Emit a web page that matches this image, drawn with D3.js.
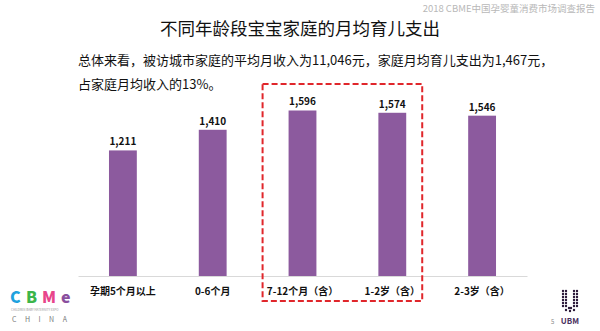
<!DOCTYPE html>
<html>
<head>
<meta charset="utf-8">
<script src="https://cdn.jsdelivr.net/npm/d3@7"></script>
<style>
  html, body { margin: 0; padding: 0; background: #fff; }
  svg { display: block; }
  text { font-family: "Noto Sans CJK SC", "Noto Sans", sans-serif; }
</style>
</head>
<body>
<svg id="chart" width="600" height="331"></svg>
<script>
// Monthly childcare spending by baby age group (元)
const categories = ["孕期5个月以上", "0-6个月", "7-12个月（含）", "1-2岁（含）", "2-3岁（含）"];
const spending = [1211, 1410, 1596, 1574, 1546];
const highlighted = ["7-12个月（含）", "1-2岁（含）"];

const headerText = "2018 CBME中国孕婴童消费市场调查报告";
const titleText = "不同年龄段宝宝家庭的月均育儿支出";
const noteLines = [
  "总体来看，被访城市家庭的平均月收入为11,046元，家庭月均育儿支出为1,467元，",
  "占家庭月均收入的13%。"
];

const svg = d3.select("#chart");
const barColor = "#8c5a9e";

// Header, title and note
svg.append("text").attr("x", 595).attr("y", 12).attr("text-anchor", "end")
  .attr("font-size", 9.5).attr("fill", "#b8b8b8").text(headerText);

svg.append("text").attr("x", 300).attr("y", 35).attr("text-anchor", "middle")
  .attr("font-size", 17.5).attr("fill", "#111").text(titleText);

svg.selectAll("text.note").data(noteLines).join("text")
  .attr("class", "note")
  .attr("x", 78).attr("y", (d, i) => 65 + i * 24)
  .attr("font-size", 13).attr("fill", "#111").text(d => d);

// Scales
const x = d3.scaleBand().domain(categories).range([78, 527]).paddingInner(0.69).paddingOuter(0.345);
const y = d3.scaleLinear().domain([0, 2000]).range([276, 68.6]);

// Baseline
const xAxis = d3.axisBottom(x).tickSize(0).tickPadding(12);
const axisG = svg.append("g").attr("transform", "translate(0,276)").call(xAxis);
axisG.select(".domain").attr("stroke", "#d9d9d9").attr("stroke-width", 1);
axisG.selectAll(".tick text")
  .attr("font-size", 10).attr("font-weight", "bold").attr("fill", "#111")
  .attr("font-family", "\"Noto Sans CJK SC\", sans-serif");

// Bars
svg.selectAll("rect.bar").data(categories).join("rect")
  .attr("class", "bar")
  .attr("x", d => x(d))
  .attr("width", x.bandwidth())
  .attr("y", (d, i) => y(spending[i]))
  .attr("height", (d, i) => y(0) - y(spending[i]))
  .attr("fill", barColor);

// Value labels
svg.selectAll("text.val").data(categories).join("text")
  .attr("class", "val")
  .attr("x", d => x(d) + x.bandwidth() / 2)
  .attr("y", (d, i) => y(spending[i]) - 5)
  .attr("text-anchor", "middle")
  .attr("font-size", 10).attr("font-weight", "bold").attr("fill", "#111")
  .attr("font-family", "\"Open Sans\", \"Noto Sans\", sans-serif")
  .text((d, i) => d3.format(",")(spending[i]));

// Dashed highlight around the 7 months – 2 years groups
const hx0 = x(highlighted[0]) - 26;
const hx1 = x(highlighted[1]) + x.bandwidth() + 16;
svg.append("rect")
  .attr("x", hx0).attr("y", 84)
  .attr("width", hx1 - hx0).attr("height", 217)
  .attr("fill", "none").attr("stroke", "#e0262b")
  .attr("stroke-width", 2).attr("stroke-dasharray", "6,3");

// CBME logo
const logo = svg.append("g").attr("transform", "translate(10,0)");
const letters = [
  { ch: "C", c: "#1fa2de", dx: 0 },
  { ch: "B", c: "#3cb54a", dx: 16 },
  { ch: "M", c: "#e8458b", dx: 32 },
  { ch: "e", c: "#8a4f9e", dx: 51 }
];
logo.selectAll("text.l").data(letters).join("text")
  .attr("class", "l")
  .attr("x", d => d.dx).attr("y", 303)
  .attr("font-size", 16).attr("font-weight", "900")
  .attr("font-family", "\"DejaVu Sans\", sans-serif")
  .attr("fill", d => d.c).text(d => d.ch);
logo.append("text").attr("x", 1).attr("y", 311).attr("font-size", 3)
  .attr("fill", "#999").text("CHILDREN BABY MATERNITY EXPO");
logo.append("text").attr("x", 2).attr("y", 322).attr("font-size", 7)
  .attr("fill", "#777").attr("letter-spacing", 8.5).text("CHINA");

// UBM logo: dotted U mark
const ubm = svg.append("g");
const dots = [];
for (let r = 0; r < 6; r++) {
  [563, 566, 574, 577].forEach(cx => dots.push([cx, 291 + r * 3]));
}
[[566, 310], [570, 311], [574, 310], [569, 308], [571, 308]].forEach(p => dots.push(p));
ubm.selectAll("circle").data(dots).join("circle")
  .attr("cx", d => d[0]).attr("cy", d => d[1]).attr("r", 1.2).attr("fill", "#2a1838");
ubm.append("text").attr("x", 570).attr("y", 324).attr("text-anchor", "middle")
  .attr("font-size", 8).attr("font-weight", "bold").attr("fill", "#4a3060").text("UBM");
svg.append("text").attr("x", 551).attr("y", 324).attr("font-size", 6)
  .attr("fill", "#888").text("5");
</script>
</body>
</html>
